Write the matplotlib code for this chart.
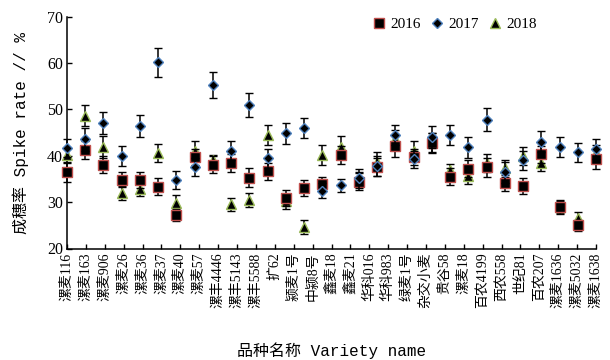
import numpy as np
import matplotlib
matplotlib.use("Agg")
import matplotlib.pyplot as plt
from matplotlib.lines import Line2D

# ---- data ----
varieties = ["漯麦116", "漯麦163", "漯麦906", "漯麦26", "漯麦36", "漯麦37", "漯麦40",
             "漯麦57", "漯丰4446", "漯丰5143", "漯丰5588", "扩62", "颍麦1号", "中颍8号",
             "鑫麦18", "鑫麦21", "华科016", "华科983", "绿麦1号", "杂交小麦", "贵谷58",
             "漯麦18", "百农4199", "西农558", "世纪81", "百农207", "漯麦1636",
             "漯麦5032", "漯麦1638"]

y2016 = [36.4, 41.2, 38.1, 34.8, 34.8, 33.3, 27.2, 39.7, 38.1, 38.4, 35.3, 36.6, 30.9,
         33.0, 34.0, 40.1, 34.4, 37.6, 42.1, 39.7, 42.7, 35.5, 37.2, 37.5, 34.2, 33.5,
         40.3, 28.9, 25.0, 39.2]
e2016 = [2.0, 1.9, 1.9, 1.6, 1.7, 1.8, 1.3, 1.8, 1.9, 1.9, 2.0, 1.8, 1.7, 1.7, 1.5,
         1.9, 1.8, 1.9, 2.3, 1.8, 2.1, 1.9, 1.8, 2.0, 1.7, 1.7, 1.8, 1.5, 1.2, 2.0]

y2017 = [41.6, 43.5, 47.0, 39.9, 46.4, 60.1, 34.8, 37.6, 55.3, 41.1, 50.9, 39.4, 44.8,
         46.0, 32.5, 33.6, 35.1, 37.8, 44.4, 39.2, 44.1, 44.5, 41.8, 47.8, 36.4, 39.0,
         43.0, 41.9, 40.7, 41.4]
e2017 = [1.9, 2.5, 2.4, 2.2, 2.4, 3.1, 2.0, 1.9, 2.8, 2.1, 2.6, 2.1, 2.3, 2.2, 1.6,
         1.4, 2.1, 2.1, 2.2, 1.9, 2.4, 2.1, 2.2, 2.4, 2.3, 2.1, 2.3, 2.1, 2.1, 2.2]

y2018 = [40.2, 48.6, 41.9, 31.9, 32.9, 40.6, 29.9, 41.1, 39.0, 29.5, 30.5, 44.4, 30.2,
         24.7, 40.2, 41.9, 35.0, 38.7, 43.5, 41.1, 42.9, 36.9, 35.6, 38.4, 37.3, 39.9,
         38.4, 29.0, 26.5, 40.6]
e2018 = [1.5, 2.3, 2.3, 1.5, 1.6, 2.0, 1.6, 2.1, 1.2, 1.4, 1.5, 2.2, 1.6, 1.5, 2.1,
         2.3, 1.5, 2.1, 2.0, 2.1, 2.0, 1.4, 1.6, 2.0, 1.8, 1.9, 1.8, 1.3, 1.4, 1.8]

years = ["2016", "2017", "2018"]

# ---- styling ----
serif_cjk = ["Liberation Serif", "Noto Sans CJK SC"]
mono_cjk = ["Liberation Mono", "Noto Sans CJK SC"]
plt.rcParams["font.family"] = serif_cjk

fig = plt.figure(figsize=(6.1, 3.6), dpi=100)
ax = fig.add_axes([67 / 610, 1 - 248.5 / 360, (596 - 67) / 610, 232 / 360])

n = len(y2016)
x = np.arange(n)

styles = [
    dict(marker="s", ms=7, mfc="black", mec="#c0504d", mew=1.0, zorder=4),
    dict(marker="D", ms=4.8, mfc="black", mec="#4f81bd", mew=1.0, zorder=5),
    dict(marker="^", ms=6.5, mfc="black", mec="#9bbb59", mew=1.0, zorder=3),
]

for yv, ev, st in zip([y2016, y2017, y2018], [e2016, e2017, e2018], styles):
    ax.errorbar(x, yv, yerr=ev, fmt=st["marker"], ms=st["ms"], mfc=st["mfc"],
                mec=st["mec"], mew=st["mew"], ecolor="black", elinewidth=1.1,
                capsize=2.6, capthick=1.1, zorder=st["zorder"], clip_on=False)

ax.set_xlim(0, n - 1)
ax.set_ylim(20, 70)
ax.set_yticks([20, 30, 40, 50, 60, 70])
ax.set_xticks(np.linspace(0, n - 1, len(varieties)))
ax.set_xticklabels(varieties, rotation=90, fontsize=10, family=serif_cjk)

for s in ["top", "right"]:
    ax.spines[s].set_visible(False)
for s in ["left", "bottom"]:
    ax.spines[s].set_linewidth(1.1)

ax.tick_params(axis="both", direction="in", length=3.5, width=1.0, pad=3)
ax.tick_params(axis="y", labelsize=11.5)

ax.set_ylabel("成穗率 Spike rate // %", fontsize=11.5, family=mono_cjk)
ax.yaxis.set_label_coords(-0.072, 0.5)
ax.set_xlabel("品种名称 Variety name", fontsize=11.5, family=mono_cjk)
ax.xaxis.set_label_coords(0.5, -0.405)

handles = [Line2D([], [], linestyle="none", marker=st["marker"], ms=st["ms"],
                  mfc=st["mfc"], mec=st["mec"], mew=st["mew"]) for st in styles]
fig.legend(handles, years, loc="center", bbox_to_anchor=(455 / 610, 1 - 24 / 360),
           ncol=3, frameon=False, fontsize=11, handlelength=0.8,
           handletextpad=0.3, columnspacing=0.7, borderpad=0)

fig.savefig("out.png", dpi=100)
